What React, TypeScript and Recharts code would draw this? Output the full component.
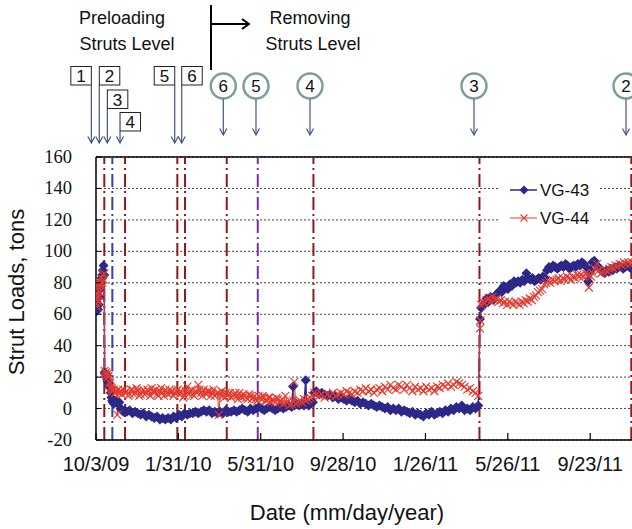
import React from 'react';
import { LineChart, Line, XAxis, YAxis, CartesianGrid, ReferenceLine } from 'recharts';

// day 0 = 10/3/09
const xTicks = [0, 120, 240, 360, 480, 600, 720];
const yTicks = [-20, 0, 20, 40, 60, 80, 100, 120, 140, 160];

// VG-43 readings [day, tons]
const vg43Preload: [number, number][] = [
  [0, 64], [1, 62], [2, 65], [3, 63], [4, 66], [5, 71], [6, 76], [7, 80], [8, 83], [9, 85], [10, 88], [11, 91], [12, 85],
  [12.6, 23], [13.5, 22], [14.5, 20], [15.5, 21], [16.5, 18], [17.5, 17], [18.5, 16], [19.5, 14], [20.5, 13], [21.5, 10],
  [22.5, 7], [23.5, 5], [24.5, 4], [26, 3], [28, 5], [30, 4], [32, 3], [34, 4], [36, 0], [38, -1], [40, -2], [42, -1],
];
const vg43Low: [number, number][] = [
  [45, -2], [49, -1], [53, -3], [57, -2], [61, -3], [65, -4], [69, -3], [73, -5], [77, -4], [81, -5], [85, -6], [89, -5],
  [93, -7], [97, -6], [101, -7], [105, -6], [109, -7], [113, -5], [117, -6], [121, -4], [125, -5], [129, -3], [133, -4],
  [137, -3], [141, -3], [145, -2], [149, -3], [153, -2], [157, -1], [161, -2], [165, -1], [169, -3], [173, -2], [177, -3],
  [181, -2], [185, -3], [189, -1], [193, -2], [197, -2], [201, -1], [205, -2], [209, -1], [213, 0], [217, -1], [221, -2],
  [225, 0], [229, -1], [233, 0], [237, 1], [241, 0], [245, -1], [249, 0], [253, 1], [257, 0], [261, -1], [265, 0], [269, 1],
  [273, 0], [277, 1], [281, 2], [285, 1], [287, 14], [289, 2], [292, 3], [296, 2], [300, 3], [303, 2], [305.5, 18],
  [307, 3], [310, 2], [313, 3], [316, 4],
];
const vg43Removal: [number, number][] = [
  [318, 10], [321, 11], [325, 9], [329, 10], [333, 9], [337, 8], [341, 9], [345, 7], [349, 8], [353, 6], [357, 7], [361, 6],
  [365, 5], [369, 6], [373, 5], [377, 4], [381, 5], [385, 3], [389, 4], [393, 3], [397, 2], [401, 3], [405, 2], [409, 1],
  [413, 2], [417, 1], [421, 0], [425, 1], [429, -1], [433, 0], [437, -1], [441, 0], [445, -2], [449, -1], [453, -2],
  [457, -3], [461, -2], [465, -4], [469, -3], [473, -4], [477, -5], [481, -3], [485, -4], [489, -2], [493, -4], [497, -3],
  [501, -2], [505, -3], [509, -1], [513, -2], [517, 0], [521, -1], [525, 1], [529, 0], [533, 2], [537, -1], [541, 0],
  [545, -1], [549, 1], [553, 0], [557, 2],
];
const vg43Final: [number, number][] = [
  [559.5, 57], [561, 64], [563, 65], [566, 67], [569, 70], [572, 68], [575, 71], [579, 69], [582, 72], [585, 73], [588, 75],
  [591, 74], [594, 78], [597, 77], [600, 76], [603, 79], [606, 78], [609, 81], [612, 80], [615, 81], [618, 80], [621, 82],
  [624, 81], [627, 86], [630, 83], [633, 82], [636, 83], [639, 81], [642, 82], [645, 83], [648, 82], [651, 84], [654, 83],
  [657, 88], [660, 90], [663, 89], [666, 91], [669, 90], [672, 89], [675, 90], [678, 91], [681, 90], [684, 92], [687, 91],
  [690, 89], [693, 90], [696, 91], [699, 90], [702, 92], [705, 91], [708, 93], [711, 92], [714, 90], [717, 81], [720, 88],
  [723, 93], [726, 94], [729, 91], [732, 90], [735, 89], [738, 87], [741, 86], [744, 88], [747, 87], [750, 89], [753, 88],
  [756, 90], [759, 89], [762, 91], [765, 90], [768, 89], [771, 90], [774, 91], [777, 90], [780, 89], [783, 90],
];

// VG-44 readings [day, tons]
const vg44Preload: [number, number][] = [
  [0, 67], [0.5, 72], [1, 65], [1.5, 78], [2, 70], [2.5, 80], [3, 68], [3.5, 75], [4, 72], [4.5, 79], [5, 74], [6, 80],
  [7, 78], [8, 83], [9, 80], [10, 85], [11, 82], [12, 86],
  [12.6, 24], [13.5, 22], [14.5, 23], [15.5, 21], [16.5, 22], [17.5, 20], [18.5, 21], [19.5, 17], [20.5, 16], [21.5, 14],
  [22.5, 13], [23.5, 12], [24.5, 11], [26, 12], [28, 10], [30, 11], [31, -4], [32, 12], [34, 10], [36, 11], [38, 9],
  [40, 12], [42, 10],
];
const vg44Low: [number, number][] = [
  [45, 11], [47, 8], [49, 9], [51, 12], [53, 12], [55, 9], [57, 10], [59, 13], [61, 11], [63, 8], [65, 9], [67, 11],
  [69, 12], [71, 9], [73, 10], [75, 12], [77, 11], [79, 8], [81, 13], [83, 11], [85, 10], [87, 12], [89, 9], [91, 8],
  [93, 11], [95, 13], [97, 10], [99, 8], [101, 12], [103, 10], [105, 9], [107, 12], [109, 10], [111, 11], [113, 8],
  [115, 10], [117, 11], [119, 12], [121, 9], [123, 11], [125, 10], [127, 7], [129, 8], [131, 11], [133, 14], [135, 9],
  [137, 10], [139, 12], [141, 9], [143, 8], [145, 11], [147, 10], [149, 15], [151, 12], [153, 10], [155, 8], [157, 12],
  [159, 10], [161, 9], [163, 11], [165, 11], [167, 8], [169, 10], [171, 12], [173, 8], [175, 9], [177, 10], [179, -4],
  [181, 9], [183, 11], [185, 8], [187, 7], [189, 10], [191, 8], [193, 9], [195, 10], [197, 7], [199, 8], [201, 9],
  [203, 10], [205, 8], [207, 6], [209, 10], [211, 8], [213, 7], [215, 9], [217, 8], [219, 7], [221, 6], [223, 9],
  [225, 8], [227, 6], [229, 7], [231, 8], [233, 6], [235, 5], [237, 8], [239, 7], [241, 6], [243, 8], [245, 7], [247, 5],
  [249, 5], [251, 7], [253, 7], [255, 4], [257, 6], [259, 5], [261, 4], [263, 7], [265, 6], [267, 4], [269, 5], [271, 6],
  [273, 3], [276, 8], [279, 4], [282, 2], [285, 3], [287, 5], [289, 17], [291, 3], [294, 4], [297, 5], [300, 4],
  [303, 6], [306, 5], [309, 6], [312, 7], [315, 8],
];
const vg44Removal: [number, number][] = [
  [318, 10], [321, 9], [325, 8], [329, 9], [333, 7], [337, 9], [341, 8], [345, 10], [349, 8], [353, 9], [357, 10],
  [361, 9], [365, 11], [369, 10], [373, 9], [377, 11], [381, 10], [385, 12], [389, 11], [393, 13], [397, 11], [401, 12],
  [405, 10], [409, 12], [413, 13], [417, 11], [421, 14], [425, 12], [429, 15], [433, 13], [437, 12], [441, 15], [445, 14],
  [449, 12], [453, 15], [457, 13], [461, 11], [465, 14], [469, 12], [473, 13], [477, 11], [481, 14], [485, 12], [489, 13],
  [493, 11], [497, 14], [501, 13], [505, 15], [509, 14], [513, 16], [517, 14], [521, 15], [525, 17], [529, 16], [533, 15],
  [537, 14], [541, 12], [545, 13], [549, 11], [553, 10], [557, 8],
];
const vg44Final: [number, number][] = [
  [559.5, 51], [560, 56], [561, 66], [563, 68], [566, 67], [569, 69], [572, 70], [575, 68], [578, 71], [581, 69], [584, 70],
  [587, 68], [590, 69], [593, 67], [596, 68], [599, 66], [602, 68], [605, 67], [608, 66], [611, 68], [614, 67], [617, 66],
  [620, 68], [623, 67], [626, 69], [629, 68], [632, 70], [635, 69], [638, 71], [641, 72], [644, 74], [647, 75], [650, 76],
  [653, 79], [656, 80], [659, 81], [662, 80], [665, 82], [668, 81], [671, 82], [674, 83], [677, 81], [680, 83], [683, 82],
  [686, 84], [689, 83], [692, 82], [695, 84], [698, 83], [701, 85], [704, 84], [707, 85], [710, 84], [713, 86], [716, 85],
  [718, 77], [721, 84], [724, 86], [727, 89], [730, 92], [733, 88], [736, 86], [739, 87], [742, 88], [745, 87], [748, 89],
  [751, 90], [754, 89], [757, 91], [760, 90], [763, 92], [766, 91], [769, 93], [772, 92], [775, 93], [778, 92], [781, 93],
];

// event lines (days) and their colours
const eventDays = [12.1, 23.8, 42.3, 118.5, 129.7, 190.5, 235.7, 316.8, 558.7, 779.9];
const eventColors = ['#8a1c1c', '#3a3fb0', '#8a1c1c', '#8a1c1c', '#8a1c1c', '#8a1c1c', '#7b2fa3', '#8a1c1c', '#8a1c1c', '#8a1c1c'];

// preloading (boxes) and removal (circles) markers
const preloadLabels = ['1', '2', '3', '4', '5', '6'];
const preloadDays = [-6.8, 4.8, 16.5, 35, 114.7, 124.9];
const removalLabels = ['6', '5', '4', '3', '2'];
const removalDays = [185.5, 233.1, 311.8, 550.7, 772.2];

const boxLayout: Record<string, { left: boolean; top: number }> = {
  '1': { left: true, top: 66.5 },
  '2': { left: false, top: 66.5 },
  '3': { left: false, top: 90 },
  '4': { left: false, top: 112.5 },
  '5': { left: true, top: 66.5 },
  '6': { left: false, top: 66.5 },
};

const SANS = '"Liberation Sans", Arial, sans-serif';
const SERIF = '"Liberation Serif", "Times New Roman", serif';
const ARROW = '#45557f';
const BLUE = '#2b2888';
const RED = '#e53a2f';

const toRows = (pts: [number, number][]) => pts.map(([day, load]) => ({ day, load }));
const vg43Data = toRows([...vg43Preload, ...vg43Low, ...vg43Removal, ...vg43Final]);
const vg44Data = toRows([...vg44Preload, ...vg44Low, ...vg44Removal, ...vg44Final]);

const fmtDate = (days: number) => {
  const d = new Date(2009, 9, 3 + days);
  return `${d.getMonth() + 1}/${d.getDate()}/${String(d.getFullYear()).slice(2)}`;
};

const Diamond = (p: any) => {
  const { cx, cy, index } = p;
  if (cx == null || cy == null) return <g key={`d${index}`} />;
  const r = 5;
  return (
    <polygon
      key={`d${index}`}
      points={`${cx},${cy - r} ${cx + r},${cy} ${cx},${cy + r} ${cx - r},${cy}`}
      fill={BLUE}
    />
  );
};

const Cross = (p: any) => {
  const { cx, cy, index } = p;
  if (cx == null || cy == null) return <g key={`x${index}`} />;
  const r = 4;
  return (
    <g key={`x${index}`} stroke={RED} strokeWidth={1.1}>
      <line x1={cx - r} y1={cy - r} x2={cx + r} y2={cy + r} />
      <line x1={cx - r} y1={cy + r} x2={cx + r} y2={cy - r} />
    </g>
  );
};

const XTick = (p: any) => {
  const { x, y, payload } = p;
  return (
    <g>
      <line x1={x} x2={x} y1={y - 7} y2={y} stroke="#000" strokeWidth={1.2} />
      <text x={x} y={y + 31} textAnchor="middle" fontSize={20} fontFamily={SANS} fill="#111">
        {fmtDate(payload.value)}
      </text>
    </g>
  );
};

const YTick = (p: any) => {
  const { x, y, payload } = p;
  return (
    <g>
      <line x1={x} x2={x + 5} y1={y} y2={y} stroke="#000" strokeWidth={1} />
      <text x={x - 24} y={y + 6} textAnchor="end" fontSize={18.5} fontFamily={SERIF} fill="#111">
        {payload.value}
      </text>
    </g>
  );
};

const boxShape = (label: string) => (p: any) => {
  const x = p.x1;
  const lay = boxLayout[label];
  const bx = lay.left ? x - 20.5 : x;
  const by = lay.top;
  return (
    <g>
      <rect x={bx} y={by} width={20.5} height={18.5} fill="#fff" stroke="#222" strokeWidth={1} />
      <text x={bx + 10.25} y={by + 15.5} textAnchor="middle" fontSize={17} fontFamily={SANS} fill="#111">
        {label}
      </text>
      <line x1={x} y1={by + 18.5} x2={x} y2={143} stroke={ARROW} strokeWidth={1.2} />
      <polyline points={`${x - 3.5},${136.5} ${x},${143} ${x + 3.5},${136.5}`} fill="none" stroke={ARROW} strokeWidth={1.2} />
    </g>
  );
};

const circleShape = (label: string) => (p: any) => {
  const x = p.x1;
  return (
    <g>
      <circle cx={x} cy={86} r={12.5} fill="#fff" stroke="#7e9e99" strokeWidth={2.5} />
      <text x={x} y={92} textAnchor="middle" fontSize={17} fontFamily={SANS} fill="#111">
        {label}
      </text>
      <line x1={x} y1={99} x2={x} y2={135} stroke={ARROW} strokeWidth={1.2} />
      <polyline points={`${x - 3.5},${128.5} ${x},${135} ${x + 3.5},${128.5}`} fill="none" stroke={ARROW} strokeWidth={1.2} />
    </g>
  );
};

export default function App() {
  return (
    <div style={{ position: 'absolute', left: 0, top: 0, width: 632, height: 529, overflow: 'hidden', background: '#fff' }}>
      <LineChart width={700} height={529} margin={{ top: 157, right: 0, bottom: 0, left: 0 }}>
        <CartesianGrid vertical={false} stroke="#444" strokeDasharray="2 2" />
        <XAxis
          dataKey="day"
          type="number"
          domain={[0, 880]}
          ticks={xTicks}
          interval={0}
          height={89}
          tickSize={0}
          tickMargin={0}
          tickLine={false}
          tick={<XTick />}
          axisLine={{ stroke: '#000', strokeWidth: 1.5 }}
          allowDataOverflow
        />
        <YAxis
          type="number"
          domain={[-20, 160]}
          ticks={yTicks}
          interval={0}
          width={96}
          tickSize={0}
          tickMargin={0}
          tickLine={false}
          tick={<YTick />}
          axisLine={{ stroke: '#000', strokeWidth: 1.5 }}
          allowDataOverflow
        />
        <ReferenceLine y={160} stroke="#000" strokeWidth={1.5} />
        {eventDays.map((d, i) => (
          <ReferenceLine key={`ev${i}`} x={d} stroke={eventColors[i]} strokeWidth={2} strokeDasharray="13 4 2 4" />
        ))}
        {preloadDays.map((d, i) => (
          <ReferenceLine key={`pl${i}`} x={d} ifOverflow="visible" shape={boxShape(preloadLabels[i])} />
        ))}
        {removalDays.map((d, i) => (
          <ReferenceLine key={`rm${i}`} x={d} ifOverflow="visible" shape={circleShape(removalLabels[i])} />
        ))}
        <Line
          data={vg43Data}
          dataKey="load"
          name="VG-43"
          type="linear"
          stroke={BLUE}
          strokeWidth={1.5}
          dot={Diamond}
          activeDot={false}
          isAnimationActive={false}
        />
        <Line
          data={vg44Data}
          dataKey="load"
          name="VG-44"
          type="linear"
          stroke={RED}
          strokeWidth={1}
          dot={Cross}
          activeDot={false}
          isAnimationActive={false}
        />
      </LineChart>
      <svg width={632} height={529} style={{ position: 'absolute', left: 0, top: 0, pointerEvents: 'none' }}>
        <g fontFamily={SANS} fontSize={18} fill="#111" textAnchor="middle">
          <text x={122} y={24}>Preloading</text>
          <text x={127} y={50}>Struts Level</text>
          <text x={310} y={24}>Removing</text>
          <text x={313} y={50}>Struts Level</text>
        </g>
        <line x1={211} y1={5} x2={211} y2={70} stroke="#000" strokeWidth={2} />
        <line x1={211} y1={24} x2={249} y2={24} stroke="#000" strokeWidth={2} />
        <polyline points="242,19 249,24 242,29" fill="none" stroke="#000" strokeWidth={2} />
        <text x={18} y={292} transform="rotate(-90 18 292)" textAnchor="middle" dominantBaseline="middle" fontFamily={SANS} fontSize={22} fill="#111">
          Strut Loads, tons
        </text>
        <text x={347} y={520} textAnchor="middle" fontFamily={SANS} fontSize={22} fill="#111">
          Date (mm/day/year)
        </text>
        <rect x={498} y={179} width={100} height={48} fill="#fff" />
        <line x1={510} y1={190} x2={537} y2={190} stroke={BLUE} strokeWidth={1.5} />
        <polygon points="524,185.5 528.5,190 524,194.5 519.5,190" fill={BLUE} />
        <text x={540} y={196} fontFamily={SANS} fontSize={17} fill="#111">VG-43</text>
        <line x1={510} y1={218} x2={537} y2={218} stroke={RED} strokeWidth={1} />
        <line x1={520.5} y1={214.5} x2={527.5} y2={221.5} stroke={RED} strokeWidth={1.1} />
        <line x1={520.5} y1={221.5} x2={527.5} y2={214.5} stroke={RED} strokeWidth={1.1} />
        <text x={540} y={224} fontFamily={SANS} fontSize={17} fill="#111">VG-44</text>
      </svg>
    </div>
  );
}
